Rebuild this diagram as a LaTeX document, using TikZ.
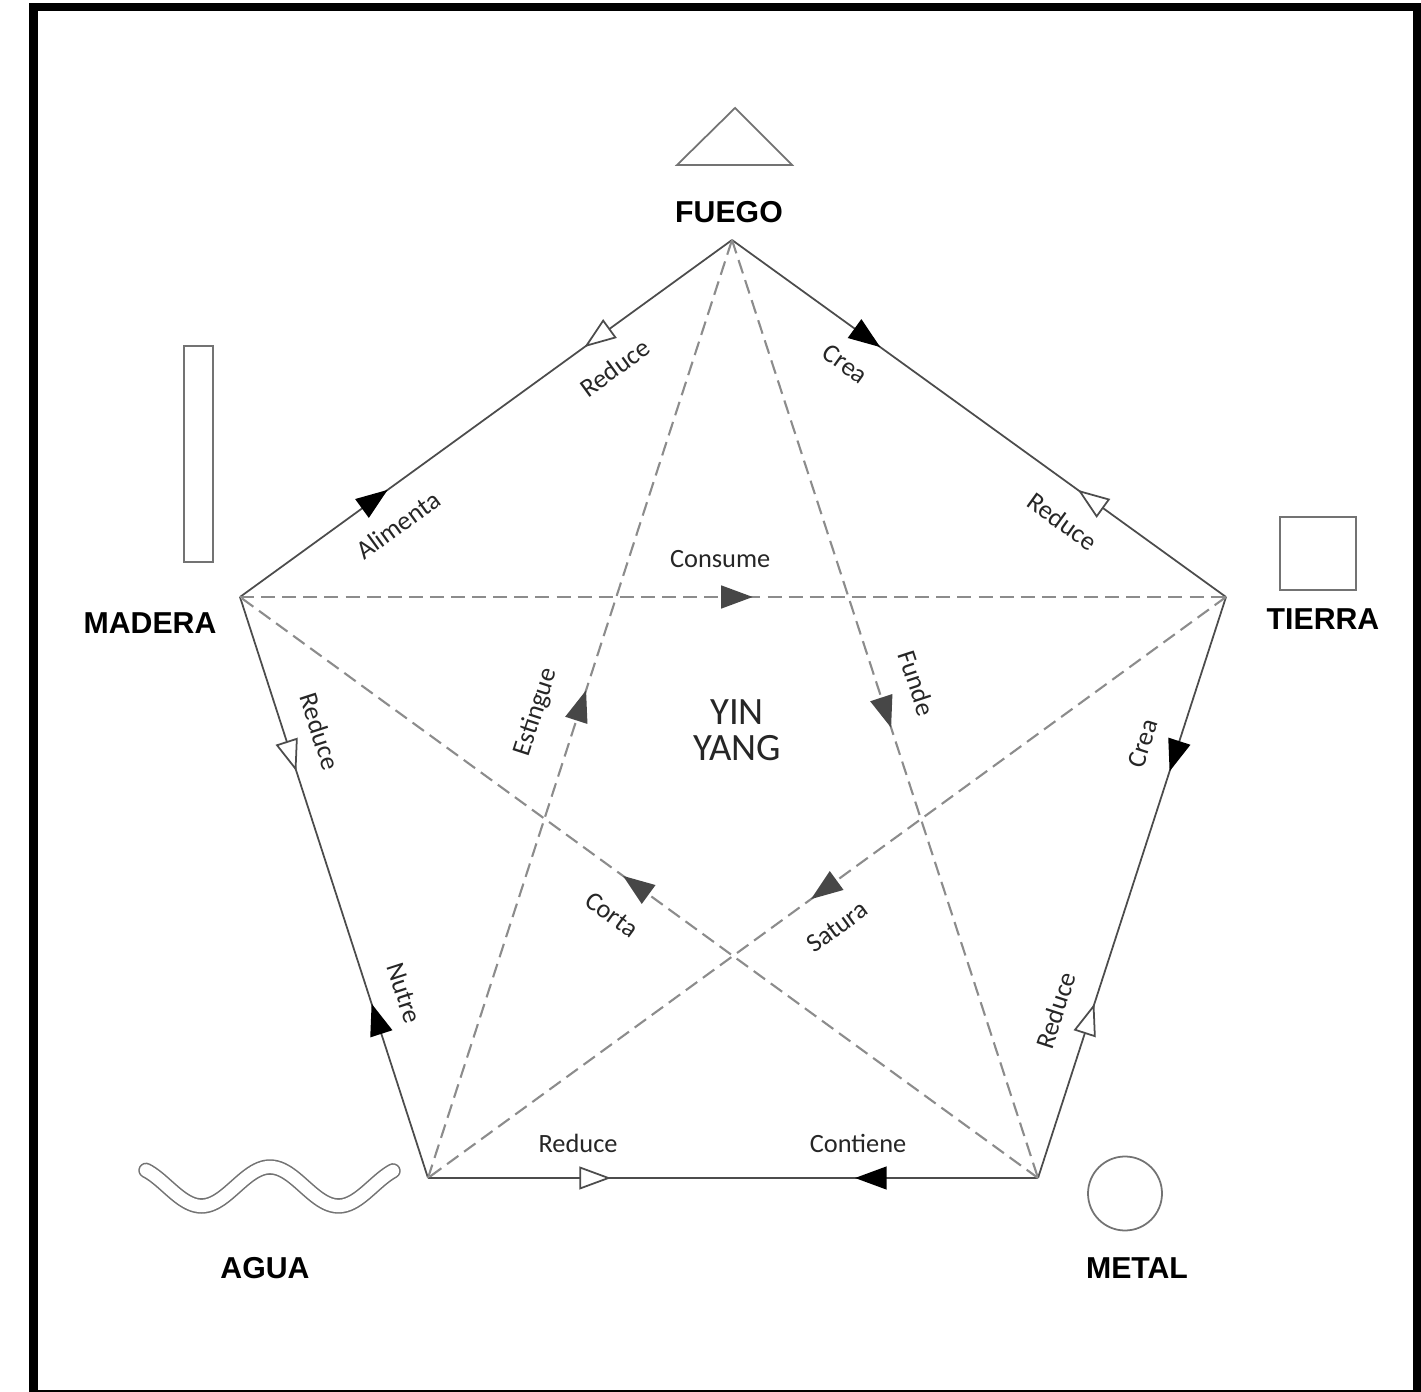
\documentclass[tikz,border=0pt]{standalone}
\usepackage{fontspec}
\setmainfont{Carlito}
\newfontfamily\rotulo{Liberation Sans}
\usetikzlibrary{arrows.meta, decorations.markings}
\tikzset{
  elemento/.style={font=\rotulo\bfseries\fontsize{8.6}{10}\selectfont, inner sep=0pt},
  accion/.style={font=\fontsize{7.5}{9}\selectfont, text=black!85, sloped, inner xsep=0pt, inner ysep=7pt},
  accionc/.style={accion, inner ysep=8pt},
  ciclo/.style={draw=black!70, line width=0.5pt, postaction={decorate},
    decoration={markings,
      mark=at position 0.3 with {\arrow[black]{Triangle[length=9pt, width=6.5pt]}},
      mark=at position 0.7 with {\arrowreversed[black!70]{Triangle[length=9pt, width=6.5pt, fill=white]}}}},
  control/.style={draw=black!45, line width=0.6pt, dash pattern=on 4pt off 2pt, postaction={decorate},
    decoration={markings,
      mark=at position 0.52 with {\arrow[black!72]{Triangle[length=9pt, width=6.5pt]}}}},
  simbolo/.style={draw=black!55, line width=0.5pt},
  ola/.style={draw=white, line width=3.5pt, line cap=round, preaction={draw=black!55, line width=4.4pt, line cap=round}},
}

\begin{document}
\begin{tikzpicture}[x=0.01cm, y=0.01cm]
  \useasboundingbox (0,0) rectangle (1421,-1392);
  \draw[line width=0.08cm] (33.5,-7.5) rectangle (1417,-1394);

  % los cinco elementos
  \coordinate (fuego) at (732,-240);
  \coordinate (madera) at (240,-597);
  \coordinate (tierra) at (1226,-597);
  \coordinate (agua) at (428,-1178);
  \coordinate (metal) at (1038,-1178);

  % simbolos
  \draw[simbolo] (677,-165) -- (735,-108) -- (792,-165) -- cycle;
  \draw[simbolo] (184,-346) rectangle (213,-562);
  \draw[simbolo] (1280,-517) rectangle (1356,-590);
  \draw[simbolo] (1125,-1193.5) circle[radius=37];
  \draw[ola] plot[domain=146:393, samples=90, smooth] (\x, {-(1186.5-19.5*cos((\x-270)/137*360))});

  \node[elemento] (nFuego) at (729,-212) {FUEGO};
  \node[elemento] (nMadera) at (150,-623) {MADERA};
  \node[elemento] (nTierra) at (1323,-619) {TIERRA};
  \node[elemento] (nAgua) at (265,-1268) {AGUA};
  \node[elemento] (nMetal) at (1137,-1268) {METAL};
  \node[font=\fontsize{11}{10.3}\selectfont, align=center, text=black!85] (yinyang) at (737,-730) {YIN\\YANG};

  % ciclo exterior
  \draw[ciclo] (madera) -- node[accion, pos=0.28, below] (tAlimenta) {Alimenta}
    node[accion, pos=0.72, below] (tReduceA) {Reduce} (fuego);
  \draw[ciclo] (fuego) -- node[accion, pos=0.27, below] (tCreaA) {Crea}
    node[accion, pos=0.71, below] (tReduceB) {Reduce} (tierra);
  \draw[ciclo] (tierra) -- node[accion, pos=0.27, above] (tCreaB) {Crea}
    node[accion, pos=0.73, above] (tReduceC) {Reduce} (metal);
  \draw[ciclo] (metal) -- node[accion, pos=0.295, above] (tContiene) {Contiene}
    node[accion, pos=0.754, above] (tReduceD) {Reduce} (agua);
  \draw[ciclo] (agua) -- node[accion, pos=0.30, above] (tNutre) {Nutre}
    node[accion, pos=0.75, above] (tReduceE) {Reduce} (madera);

  % estrella interior
  \draw[control] (madera) -- node[accionc, pos=0.487, above] (tConsume) {Consume} (tierra);
  \draw[control] (fuego) -- node[accionc, pos=0.485, above] (tFunde) {Funde} (metal);
  \draw[control] (tierra) -- node[accionc, pos=0.515, below] (tSatura) {Satura} (agua);
  \draw[control] (metal) -- node[accionc, pos=0.506, below] (tCorta) {Corta} (madera);
  \draw[control] (agua) -- node[accionc, pos=0.483, above] (tEstingue) {Estingue} (fuego);
\end{tikzpicture}
\end{document}
